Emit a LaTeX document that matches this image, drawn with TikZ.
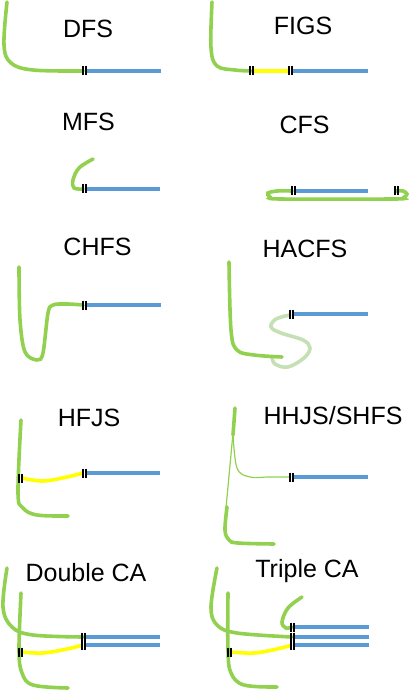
\documentclass[tikz,border=0pt]{standalone}
\usepackage{fontspec}
\setmainfont{Liberation Sans}
\definecolor{gr}{HTML}{92D050}
\definecolor{lgr}{HTML}{C5E0B4}
\definecolor{bl}{HTML}{5B9BD5}
\definecolor{ye}{HTML}{FFFF00}
\begin{document}
\begin{tikzpicture}[x=1pt,y=-1pt,
  lbl/.style={font=\fontsize{25}{25}\selectfont, inner sep=0pt},
  gline/.style={draw=gr, line width=3.6pt, line cap=round},
  lgline/.style={draw=lgr, line width=3.6pt, line cap=round},
  thin/.style={draw=gr, line width=1.2pt},
  yline/.style={draw=ye, line width=3.6pt},
  bline/.style={draw=bl, line width=3.6pt},
  bar/.style={draw=black, line width=1.8pt}]
\useasboundingbox (0,0) rectangle (408,692);
\newcommand{\mk}[2]{\draw[bar] (#1+1,#2-4.5) -- (#1+1,#2+4.5); \draw[bar] (#1+4,#2-4.5) -- (#1+4,#2+4.5);}

% ---------- DFS
\node[lbl] (tDFS) at (88,29) {DFS};
\draw[gline] plot[smooth,tension=0.6] coordinates {(7,2) (4,45) (11,63) (33,70) (83,71)};
\draw[bline] (87,71) -- (161,71);
\mk{82}{71}

% ---------- FIGS
\node[lbl] (tFIGS) at (303,26) {FIGS};
\draw[gline] plot[smooth,tension=0.6] coordinates {(212,2) (211,48) (217,66) (235,70) (251,71)};
\draw[yline] (254,71) -- (289,71);
\draw[bline] (293,71) -- (368,71);
\mk{249}{71}
\mk{288}{71}

% ---------- MFS
\node[lbl] (tMFS) at (88.5,122) {MFS};
\draw[gline] plot[smooth,tension=0.6] coordinates {(93,159) (79,168) (73,180) (74,188) (83,189)};
\draw[bline] (87,189) -- (160,189);
\mk{82}{189}

% ---------- CFS
\node[lbl] (tCFS) at (304.5,125) {CFS};
\draw[gline] plot[smooth,tension=0.5] coordinates {(396,191) (403,191) (407,194) (403,198) (393,199) (280,199) (270,197) (268,193) (277,191) (292,191)};
\draw[bline] (296,191) -- (368,191);
\mk{291}{191}
\mk{394}{191}

% ---------- CHFS
\node[lbl] (tCHFS) at (97.5,247) {CHFS};
\draw[gline] plot[smooth,tension=0.55] coordinates {(19,267) (20,320) (25,352) (37,360) (43,353) (48,313) (53,305) (67,304) (83,305)};
\draw[bline] (87,305) -- (161,305);
\mk{82}{305}

% ---------- HACFS
\node[lbl] (tHACFS) at (305,249) {HACFS};
\draw[lgline] plot[smooth,tension=0.6] coordinates {(290,315) (276,319) (271,327) (281,333) (303,340) (310,348) (304,358) (288,367) (275,364) (272,357)};
\draw[gline] plot[smooth,tension=0.6] coordinates {(229,262) (231,330) (237,350) (254,355) (282,357)};
\draw[bline] (294,314) -- (368,314);
\mk{289}{314}

% ---------- HFJS
\node[lbl] (tHFJS) at (89,418) {HFJS};
\draw[gline] plot[smooth,tension=0.6] coordinates {(21,420) (18,493) (23,508) (37,515) (68,516)};
\draw[yline] plot[smooth,tension=0.6] coordinates {(22,478) (43,481) (67,477) (83,473)};
\draw[bline] (87,473) -- (160,473);
\mk{18}{478}
\mk{82}{473}

% ---------- HHJS/SHFS
\node[lbl] (tHHJS) at (333,416) {HHJS/SHFS};
\draw[gline] (235,408) -- (233,435);
\draw[thin] (233,433) -- (226,508);
\draw[thin] plot[smooth,tension=0.6] coordinates {(233,433) (237,468) (250,477) (268,477) (291,477)};
\draw[gline] plot[smooth,tension=0.6] coordinates {(227,507) (225,530) (229,540) (238,543) (274,544)};
\draw[bline] (294,477) -- (368,477);
\mk{289}{477}

% ---------- Double CA
\node[lbl] (tDCA) at (86,573) {Double CA};
\draw[gline] plot[smooth,tension=0.6] coordinates {(7,568) (3,607) (12,627) (33,635) (83,637)};
\draw[gline] plot[smooth,tension=0.6] coordinates {(21,593) (19,650) (22,673) (33,685) (68,688)};
\draw[yline] plot[smooth,tension=0.6] coordinates {(22,652) (43,653) (67,649) (83,645)};
\draw[bline] (86,637) -- (160,637);
\draw[bline] (86,645) -- (160,645);
\mk{81}{637}
\mk{81}{645}
\mk{18}{652}

% ---------- Triple CA
\node[lbl] (tTCA) at (307,571) {Triple CA};
\draw[gline] plot[smooth,tension=0.6] coordinates {(217,568) (211,607) (217,625) (237,633) (292,637)};
\draw[gline] plot[smooth,tension=0.6] coordinates {(228,593) (228,650) (231,673) (244,685) (277,687)};
\draw[gline] plot[smooth,tension=0.6] coordinates {(302,597) (288,608) (282,622) (286,628) (292,627)};
\draw[yline] plot[smooth,tension=0.6] coordinates {(231,652) (254,653) (277,649) (292,645)};
\draw[bline] (295,627) -- (369,627);
\draw[bline] (295,637) -- (369,637);
\draw[bline] (295,645) -- (369,645);
\mk{290}{627}
\mk{290}{637}
\mk{290}{645}
\mk{227}{652}
\end{tikzpicture}
\end{document}
